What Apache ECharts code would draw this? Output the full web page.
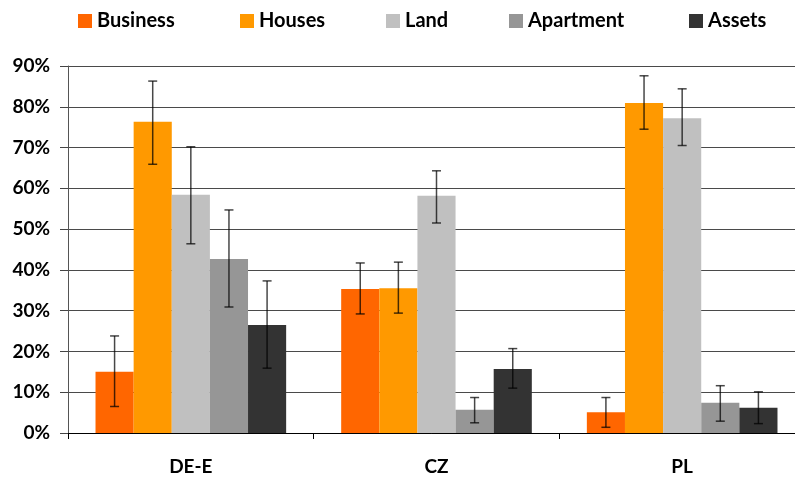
<!DOCTYPE html>
<html>
<head>
<meta charset="utf-8">
<script src="https://cdn.jsdelivr.net/npm/echarts@6/dist/echarts.min.js"></script>
<style>html,body{margin:0;padding:0;background:#fff;}#c{width:795px;height:477px;}</style>
</head>
<body>
<div id="c"></div>
<script>
const categories = ['DE-E', 'CZ', 'PL'];
const seriesNames = ['Business', 'Houses', 'Land', 'Apartment', 'Assets'];
const colors = ['#FF6600', '#FF9900', '#C0C0C0', '#969696', '#333333'];
const business = [15.0, 35.3, 5.1];
const houses = [76.3, 35.5, 80.9];
const land = [58.4, 58.2, 77.2];
const apartment = [42.7, 5.7, 7.4];
const assets = [26.5, 15.7, 6.2];
const businessErrLow = [6.5, 29.2, 1.4];
const businessErrHigh = [23.8, 41.7, 8.7];
const housesErrLow = [65.9, 29.4, 74.5];
const housesErrHigh = [86.3, 41.9, 87.6];
const landErrLow = [46.4, 51.5, 70.5];
const landErrHigh = [70.2, 64.3, 84.4];
const apartmentErrLow = [30.9, 2.5, 2.9];
const apartmentErrHigh = [54.7, 8.7, 11.6];
const assetsErrLow = [15.9, 11.0, 2.3];
const assetsErrHigh = [37.3, 20.7, 10.1];
const yTicks = [0, 10, 20, 30, 40, 50, 60, 70, 80, 90];

const values = [business, houses, land, apartment, assets];
const errLow = [businessErrLow, housesErrLow, landErrLow, apartmentErrLow, assetsErrLow];
const errHigh = [businessErrHigh, housesErrHigh, landErrHigh, apartmentErrHigh, assetsErrHigh];

const FONT = 'Lato';
const GAP = 0.224;
const legendLefts = [78, 240, 386, 509, 689];

const chart = echarts.init(document.getElementById('c'), null, {renderer: 'canvas'});

const series = [];
values.forEach((v, i) => {
  series.push({
    name: seriesNames[i], type: 'bar', data: v,
    itemStyle: {color: colors[i]},
    barGap: '0%', barCategoryGap: (GAP * 100) + '%',
    z: 2
  });
});
values.forEach((v, i) => {
  series.push({
    name: 'err-' + seriesNames[i], type: 'custom', z: 5,
    data: categories.map((c, k) => [k, errLow[i][k], errHigh[i][k]]),
    encode: {x: 0, y: [1, 2]},
    renderItem: function (params, api) {
      const k = api.value(0);
      const lo = api.coord([k, api.value(1)]);
      const hi = api.coord([k, api.value(2)]);
      const band = api.size([1, 0])[0];
      const bw = band * (1 - GAP) / 5;
      const x = lo[0] + (i - 2) * bw;
      const cap = 4.5;
      const style = {stroke: 'rgba(0,0,0,0.72)', lineWidth: 1.5};
      return {
        type: 'group',
        children: [
          {type: 'line', shape: {x1: x, y1: lo[1], x2: x, y2: hi[1]}, style: style},
          {type: 'line', shape: {x1: x - cap, y1: lo[1], x2: x + cap, y2: lo[1]}, style: style},
          {type: 'line', shape: {x1: x - cap, y1: hi[1], x2: x + cap, y2: hi[1]}, style: style}
        ]
      };
    }
  });
});

const legends = seriesNames.map((n, i) => ({
  data: [n], left: legendLefts[i], top: 11, padding: 0,
  itemWidth: 14, itemHeight: 14, icon: 'rect', selectedMode: false,
  textStyle: {fontFamily: FONT, fontWeight: 'bold', fontSize: 20, color: '#000', padding: [0, 0, 0, 0]}
}));

chart.setOption({
  animation: false,
  backgroundColor: '#fff',
  legend: legends,
  grid: {left: 68, top: 66, width: 737, height: 367, containLabel: false, outerBoundsMode: 'none'},
  xAxis: {
    type: 'category', data: categories,
    axisLine: {show: true, lineStyle: {color: '#000', width: 1}},
    axisTick: {show: true, alignWithLabel: false, length: 6, lineStyle: {color: '#000'}},
    axisLabel: {fontFamily: FONT, fontWeight: 'bold', fontSize: 19, color: '#000', margin: 24},
    splitLine: {show: false}
  },
  yAxis: {
    type: 'value', min: 0, max: 90, interval: 10,
    axisLine: {show: true, lineStyle: {color: '#555', width: 1}},
    axisTick: {show: true, length: 8, lineStyle: {color: '#444'}},
    axisLabel: {fontFamily: FONT, fontWeight: 'bold', fontSize: 19, color: '#000', margin: 18,
      formatter: function (v) { return yTicks.indexOf(v) >= 0 ? v + '%' : ''; }},
    splitLine: {show: true, lineStyle: {color: '#4a4a4a', width: 1}}
  },
  series: series
});
</script>
</body>
</html>
